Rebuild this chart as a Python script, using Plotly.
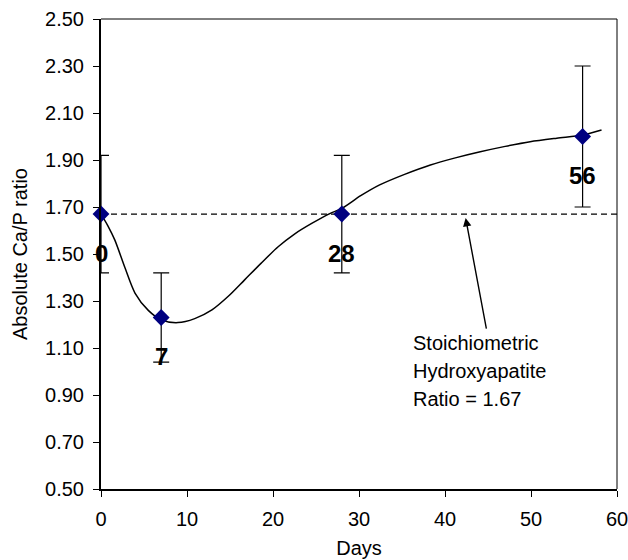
import plotly.graph_objects as go

days = [0, 7, 28, 56]
ratio = [1.67, 1.23, 1.67, 2.00]
err = [0.25, 0.19, 0.25, 0.30]
point_labels = ["0", "7", "28", "56"]

curve_x = [0, 0.8, 1.6, 2.8, 3.95, 5.5, 7.05, 8.95, 10.9, 12.9, 14.8, 16.7, 18.6, 20.6, 22.5, 24.5, 26.6, 28, 30.2, 32.4, 35.3, 38.3, 41.2, 44.1, 47, 49.9, 53, 56, 58.2]
curve_y = [1.67, 1.62, 1.56, 1.44, 1.334, 1.26, 1.219, 1.208, 1.225, 1.262, 1.32, 1.39, 1.46, 1.531, 1.585, 1.63, 1.672, 1.694, 1.748, 1.794, 1.839, 1.879, 1.909, 1.935, 1.958, 1.978, 1.993, 2.006, 2.028]

ref_ratio = 1.67
note_lines = ["Stoichiometric", "Hydroxyapatite", "Ratio = 1.67"]
x_ticks = [0, 10, 20, 30, 40, 50, 60]
y_ticks = [0.5, 0.7, 0.9, 1.1, 1.3, 1.5, 1.7, 1.9, 2.1, 2.3, 2.5]
x_title = "Days"
y_title = "Absolute Ca/P ratio"

FONT = "Liberation Sans, Arial, sans-serif"

fig = go.Figure()

fig.add_trace(go.Scatter(
    x=[0, 60], y=[ref_ratio, ref_ratio], mode="lines",
    line=dict(color="black", width=1.3, dash="6px,4px"),
    hoverinfo="skip", showlegend=False, cliponaxis=False))

fig.add_trace(go.Scatter(
    x=curve_x, y=curve_y, mode="lines",
    line=dict(color="black", width=1.5, shape="spline", smoothing=0.8),
    showlegend=False, cliponaxis=False))

fig.add_trace(go.Scatter(
    x=days, y=ratio, mode="markers",
    marker=dict(symbol="diamond", size=13, color="#000080"),
    error_y=dict(type="data", array=err, color="black", thickness=1.2, width=8),
    showlegend=False, cliponaxis=False))

for d, r, lab in zip(days, ratio, point_labels):
    fig.add_annotation(x=d, y=r, text="<b>%s</b>" % lab, showarrow=False,
                       yshift=-39, font=dict(size=24, color="black", family=FONT))

# arrow pointing at the reference line
fig.add_annotation(
    x=42.4, y=ref_ratio, yshift=-4, axref="pixel", ayref="pixel", ax=21, ay=112,
    text="", showarrow=True, arrowhead=2, arrowsize=1.2, arrowwidth=1.4, arrowcolor="black",
    standoff=0)

# note text, one line per annotation
note_y = [1.121, 1.002, 0.883]
for txt, yy in zip(note_lines, note_y):
    fig.add_annotation(
        x=36.0, y=yy, xanchor="left", yanchor="middle", align="left", showarrow=False,
        text=txt, font=dict(size=20, color="black", family=FONT))

# y-axis title as rotated annotation
fig.add_annotation(
    xref="paper", yref="paper", x=-0.157, y=0.5, xanchor="center", yanchor="middle",
    text=y_title, textangle=-90, showarrow=False,
    font=dict(size=20, color="black", family=FONT))

# thin top/right frame
fig.add_shape(type="line", xref="paper", yref="paper", x0=0, x1=1, y0=1, y1=1,
              line=dict(color="black", width=1))
fig.add_shape(type="line", xref="paper", yref="paper", x0=1, x1=1, y0=0, y1=1,
              line=dict(color="black", width=1))

fig.update_layout(
    width=628, height=560,
    margin=dict(l=101, r=11, t=19, b=71),
    paper_bgcolor="white", plot_bgcolor="white",
    font=dict(family=FONT, size=20, color="black"),
    xaxis=dict(range=[0, 60], tickvals=x_ticks, ticks="outside", ticklen=6,
               tickcolor="black", showline=True, linecolor="black", linewidth=2,
               showgrid=False, zeroline=False, ticklabelstandoff=5,
               ticklabeloverflow="allow", automargin=False,
               title=dict(text=x_title, standoff=12, font=dict(size=20)),
               tickfont=dict(size=20)),
    yaxis=dict(range=[0.5, 2.5], tickvals=y_ticks, tickformat=".2f", ticks="outside",
               ticklen=6, tickcolor="black", showline=True, linecolor="black", linewidth=2,
               showgrid=False, zeroline=False, ticklabelstandoff=5, automargin=False,
               tickfont=dict(size=20)),
)

fig.write_html("out.html")
